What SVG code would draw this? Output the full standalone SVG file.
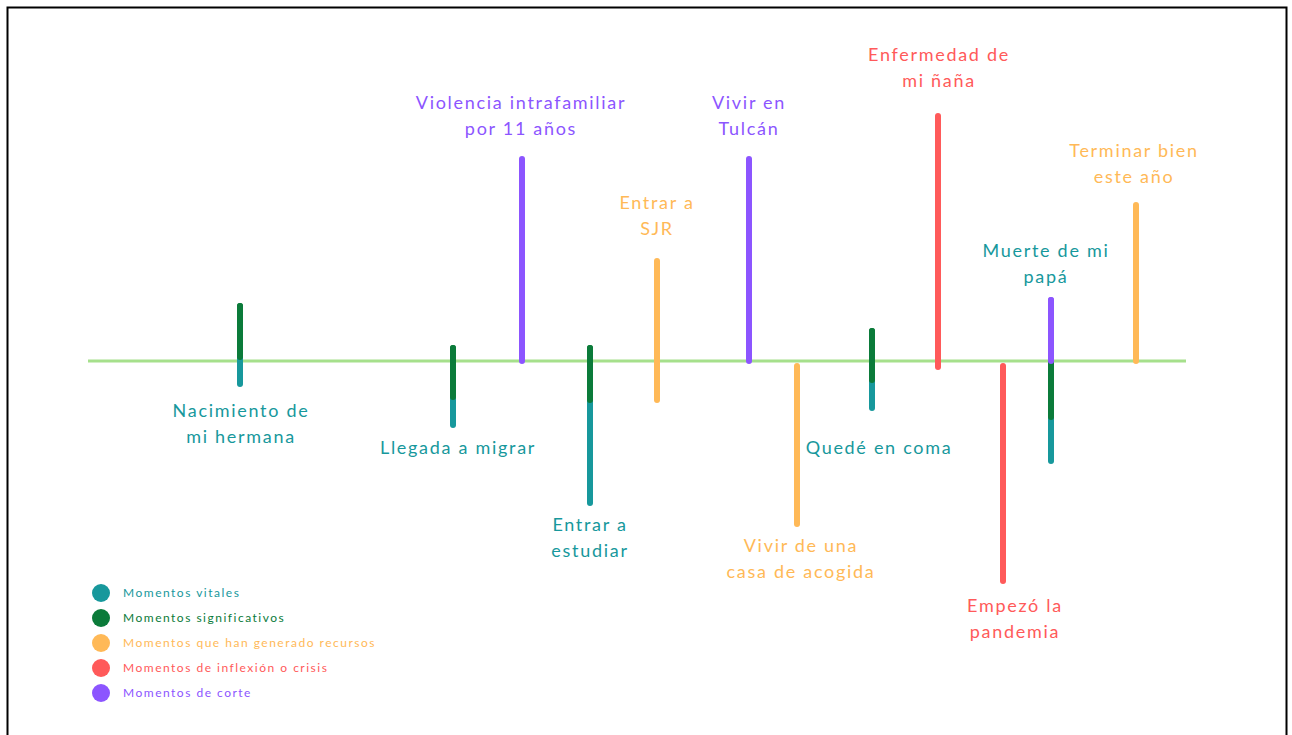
<svg xmlns="http://www.w3.org/2000/svg" width="1292" height="735" viewBox="0 0 1292 735">
<style>
text{font-family:Lato,"Open Sans",sans-serif;font-size:18px;letter-spacing:1.7px;text-anchor:middle}
.lg text{font-size:12px;text-anchor:start;letter-spacing:1.5px}
.bar{stroke-width:6;stroke-linecap:round;fill:none}
.teal{stroke:#17989c}.tealt{fill:#17989c}
.grn{stroke:#0b7b3a}.grnt{fill:#0b7b3a}
.org{stroke:#ffb957}.orgt{fill:#ffb957}
.red{stroke:#ff5a5a}.redt{fill:#ff5a5a}
.pur{stroke:#8c55ff}.purt{fill:#8c55ff}
</style>
<rect x="0" y="0" width="1292" height="735" fill="#fff"/>
<rect x="7.5" y="7.5" width="1279" height="760" fill="none" stroke="#000" stroke-width="2"/>
<g id="connectors">
<line x1="88" y1="361" x2="1186" y2="361" stroke="#a6e08c" stroke-width="3"/>
</g>
<g id="n1"><line class="bar teal" x1="240" y1="357" x2="240" y2="384"/><line class="bar grn" x1="240" y1="306" x2="240" y2="357" stroke-linecap="butt"/><line class="bar grn" x1="240" y1="306" x2="240" y2="320"/>
<text class="tealt" x="241" y="417">Nacimiento de</text><text class="tealt" x="241" y="443">mi hermana</text></g>
<g id="n2"><line class="bar teal" x1="453" y1="397" x2="453" y2="425"/><line class="bar grn" x1="453" y1="348" x2="453" y2="397" stroke-linecap="butt"/><line class="bar grn" x1="453" y1="348" x2="453" y2="360"/>
<text class="tealt" x="458" y="454">Llegada a migrar</text></g>
<g id="n3"><line class="bar pur" x1="522" y1="159" x2="522" y2="361"/>
<text class="purt" x="521" y="109">Violencia intrafamiliar</text><text class="purt" x="521" y="135">por 11 años</text></g>
<g id="n4"><line class="bar teal" x1="590" y1="400" x2="590" y2="503"/><line class="bar grn" x1="590" y1="348" x2="590" y2="400" stroke-linecap="butt"/><line class="bar grn" x1="590" y1="348" x2="590" y2="360"/>
<text class="tealt" x="590" y="531">Entrar a</text><text class="tealt" x="590" y="557">estudiar</text></g>
<g id="n5"><line class="bar org" x1="657" y1="261" x2="657" y2="400"/>
<text class="orgt" x="657" y="209">Entrar a</text><text class="orgt" x="657" y="235">SJR</text></g>
<g id="n6"><line class="bar pur" x1="749" y1="159" x2="749" y2="361"/>
<text class="purt" x="749" y="109">Vivir en</text><text class="purt" x="749" y="135">Tulcán</text></g>
<g id="n7"><line class="bar org" x1="797" y1="366" x2="797" y2="524"/>
<text class="orgt" x="801" y="552">Vivir de una</text><text class="orgt" x="801" y="578">casa de acogida</text></g>
<g id="n8"><line class="bar teal" x1="872" y1="380" x2="872" y2="408"/><line class="bar grn" x1="872" y1="331" x2="872" y2="380" stroke-linecap="butt"/><line class="bar grn" x1="872" y1="331" x2="872" y2="343"/>
<text class="tealt" x="879" y="454">Quedé en coma</text></g>
<g id="n9"><line class="bar red" x1="938" y1="116" x2="938" y2="367"/>
<text class="redt" x="939" y="61">Enfermedad de</text><text class="redt" x="939" y="87">mi ñaña</text></g>
<g id="n10"><line class="bar red" x1="1003" y1="366" x2="1003" y2="581"/>
<text class="redt" x="1015" y="612">Empezó la</text><text class="redt" x="1015" y="638">pandemia</text></g>
<g id="n11"><line class="bar teal" x1="1051" y1="417" x2="1051" y2="461"/><line class="bar grn" x1="1051" y1="361" x2="1051" y2="417" stroke-linecap="butt"/><line class="bar pur" x1="1051" y1="300" x2="1051" y2="361" stroke-linecap="butt"/><line class="bar pur" x1="1051" y1="300" x2="1051" y2="312"/>
<text class="tealt" x="1046" y="257">Muerte de mi</text><text class="tealt" x="1046" y="283">papá</text></g>
<g id="n12"><line class="bar org" x1="1136" y1="205" x2="1136" y2="361"/>
<text class="orgt" x="1134" y="157">Terminar bien</text><text class="orgt" x="1134" y="183">este año</text></g>
<g id="legend" class="lg">
<circle cx="101" cy="593" r="9" fill="#17989c"/><text class="tealt" x="123" y="597">Momentos vitales</text>
<circle cx="101" cy="618" r="9" fill="#0b7b3a"/><text class="grnt" x="123" y="622">Momentos significativos</text>
<circle cx="101" cy="643" r="9" fill="#ffb957"/><text class="orgt" x="123" y="647">Momentos que han generado recursos</text>
<circle cx="101" cy="668" r="9" fill="#ff5a5a"/><text class="redt" x="123" y="672">Momentos de inflexión o crisis</text>
<circle cx="101" cy="693" r="9" fill="#8c55ff"/><text class="purt" x="123" y="697">Momentos de corte</text>
</g>
</svg>
